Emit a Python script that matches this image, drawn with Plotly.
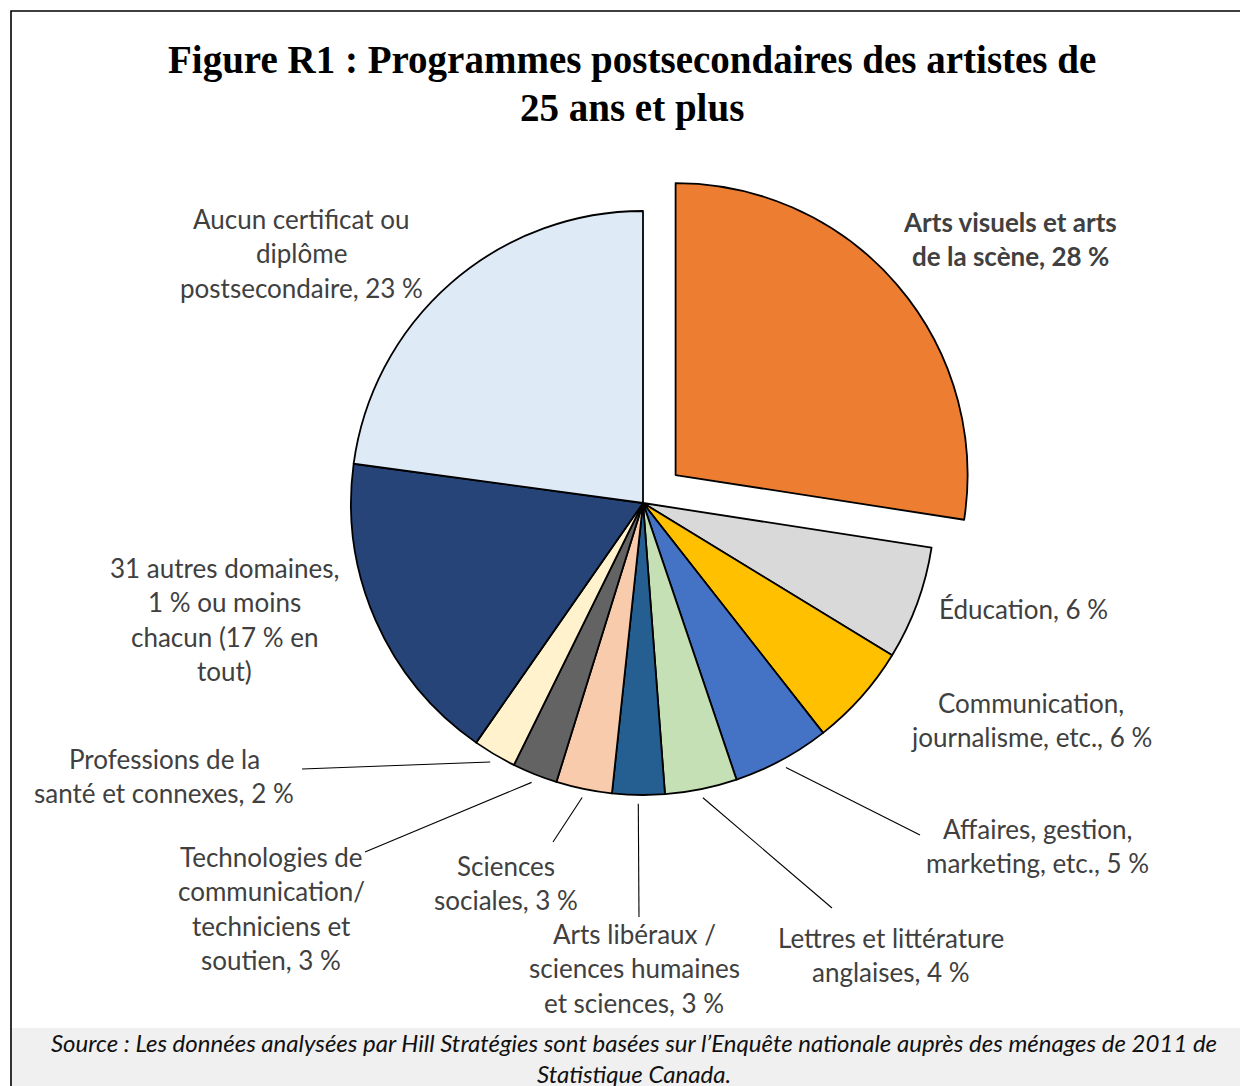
import math
import plotly.graph_objects as go

# ---------------- data ----------------
categories = [
    "Arts visuels et arts de la scène",
    "Éducation",
    "Communication, journalisme, etc.",
    "Affaires, gestion, marketing, etc.",
    "Lettres et littérature anglaises",
    "Arts libéraux / sciences humaines et sciences",
    "Sciences sociales",
    "Technologies de communication/techniciens et soutien",
    "Professions de la santé et connexes",
    "31 autres domaines, 1 % ou moins chacun",
    "Aucun certificat ou diplôme postsecondaire",
]
values = [27.5, 6.3, 5.7, 5.4, 4.0, 2.9, 3.1, 2.5, 2.4, 17.5, 22.9]
label_lines = [
    ["Arts visuels et arts", "de la scène, 28 %"],
    ["Éducation, 6 %"],
    ["Communication,", "journalisme, etc., 6 %"],
    ["Affaires, gestion,", "marketing, etc., 5 %"],
    ["Lettres et littérature", "anglaises, 4 %"],
    ["Arts libéraux /", "sciences humaines", "et sciences, 3 %"],
    ["Sciences", "sociales, 3 %"],
    ["Technologies de", "communication/", "techniciens et", "soutien, 3 %"],
    ["Professions de la", "santé et connexes, 2 %"],
    ["31 autres domaines,", "1 % ou moins", "chacun (17 % en", "tout)"],
    ["Aucun certificat ou", "diplôme", "postsecondaire, 23 %"],
]
colors = ["#ED7D31", "#D9D9D9", "#FFC000", "#4472C4", "#C5E0B4", "#255E91",
          "#F8CBAD", "#636363", "#FFF2CC", "#264478", "#DEEBF7"]
pulls = [0.147, 0, 0, 0, 0, 0, 0, 0, 0, 0, 0]
title_lines = ["Figure R1 : Programmes postsecondaires des artistes de", "25 ans et plus"]
source_lines = ["Source : Les données analysées par Hill Stratégies sont basées sur l’Enquête nationale auprès des ménages de 2011 de",
                "Statistique Canada."]

# ---------------- layout params ----------------
W, H = 1248, 1086
OFF = 8  # page body margin in the browser
CX, CY, R = 643, 503, 292
maxpull = max(pulls)
box = R * (2 + 2 * maxpull)

def px(x):
    return (x - OFF) / W

def py(y):
    return 1 - (y - OFF) / H

# label placement (center x, first line y) per category
label_pos = [
    (1010, 222), (1023, 609), (1031, 703), (1037, 829), (891, 938),
    (634, 934), (506, 866), (271, 857), (164, 759), (224, 568), (301, 219),
]
LINE_STEP = 34.3
# leader line far ends (pixel) for categories that have a leader
leader_ends = {3: (920, 835), 4: (832, 908), 5: (639, 917), 6: (553, 842),
               7: (365, 852), 8: (302, 769)}

fig = go.Figure()
fig.add_trace(go.Pie(
    labels=categories, values=values, sort=False, direction="clockwise",
    rotation=0, pull=pulls, textinfo="none", hoverinfo="label+percent",
    marker=dict(colors=colors, line=dict(color="black", width=1.8)),
    showlegend=False,
    domain=dict(x=[px(CX - box / 2), px(CX + box / 2)],
                y=[py(CY + box / 2), py(CY - box / 2)]),
))

annotations = []
LBL_FONT = "Lato, 'Open Sans', sans-serif"
for i, lines in enumerate(label_lines):
    x0, y0 = label_pos[i]
    for k, t in enumerate(lines):
        annotations.append(dict(
            x=px(x0), y=py(y0 + k * LINE_STEP), xref="paper", yref="paper",
            text=("<b>%s</b>" % t) if i == 0 else t, showarrow=False,
            xanchor="center", yanchor="middle",
            font=dict(family=LBL_FONT, size=26, color="#404040")))

for k, t in enumerate(title_lines):
    annotations.append(dict(
        x=px(632), y=py(60 + k * 48), xref="paper", yref="paper",
        text="<b>%s</b>" % t, showarrow=False, xanchor="center", yanchor="middle",
        font=dict(family="'Liberation Serif', 'DejaVu Serif', serif", size=39, color="black")))

for k, t in enumerate(source_lines):
    annotations.append(dict(
        x=px(634), y=py(1042 + k * 31), xref="paper", yref="paper",
        text="<i>%s</i>" % t, showarrow=False, xanchor="center", yanchor="middle",
        font=dict(family=LBL_FONT, size=24, color="#111111")))

shapes = []
# source box background
shapes.append(dict(type="rect", xref="paper", yref="paper", layer="below",
                   x0=px(12), x1=px(1246), y0=py(1100), y1=py(1028),
                   fillcolor="#F0F0F0", line=dict(width=0)))
# border
shapes.append(dict(type="rect", xref="paper", yref="paper",
                   x0=px(11), x1=px(1270), y0=py(1110), y1=py(11),
                   line=dict(color="black", width=1.6)))

# leader lines from slice mid-angles
total = sum(values)
cum = 0.0
for i, v in enumerate(values):
    mid = cum + v / 2
    cum += v
    if i in leader_ends:
        ang = math.radians(90 - 360 * mid / total)
        ax = CX + R * 1.03 * math.cos(ang)
        ay = CY - R * 1.03 * math.sin(ang)
        ex, ey = leader_ends[i]
        shapes.append(dict(type="line", xref="paper", yref="paper",
                           x0=px(ax), y0=py(ay), x1=px(ex), y1=py(ey),
                           line=dict(color="black", width=1.1)))

fig.update_layout(
    width=W, height=H, margin=dict(l=0, r=0, t=0, b=0),
    paper_bgcolor="white", plot_bgcolor="white",
    annotations=annotations, shapes=shapes,
)
fig.write_html("out.html")
